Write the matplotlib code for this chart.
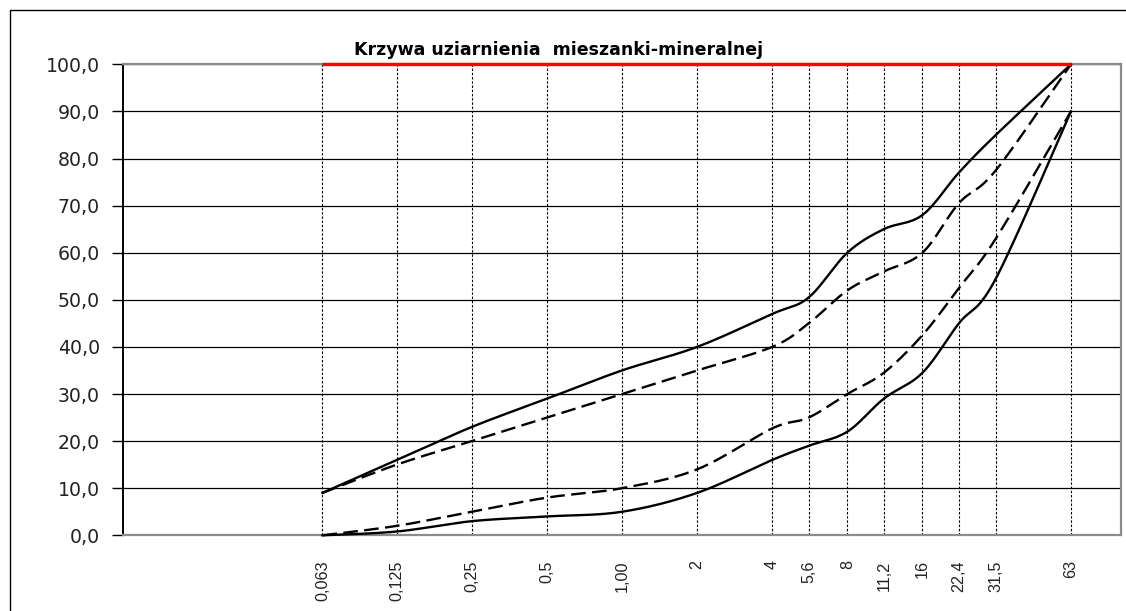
import numpy as np
import matplotlib
matplotlib.use("Agg")
import matplotlib.pyplot as plt
from matplotlib.patches import Rectangle

# ---- data ----
sieves = [0.063, 0.125, 0.25, 0.5, 1.0, 2, 4, 5.6, 8, 11.2, 16, 22.4, 31.5, 63]
sieve_labels = ["0,063", "0,125", "0,25", "0,5", "1,00", "2", "4", "5,6", "8",
                "11,2", "16", "22,4", "31,5", "63"]
upper_solid = [9, 16, 23, 29, 35, 40, 47, 50.5, 60, 65, 68, 77, 85, 100]
upper_dashed = [9, 15, 20, 25, 30, 35, 40, 45, 52, 56, 60, 70.5, 77.5, 100]
lower_dashed = [0, 2, 5, 8, 10, 14, 22.7, 25, 30, 34.5, 42.5, 52.5, 63, 90]
lower_solid = [0, 0.8, 3, 4, 5, 9, 16, 19, 22, 29, 34.5, 45, 54.5, 90]
red_x = [0.063, 63]
red_y = [100, 100]
yticks = [0, 10, 20, 30, 40, 50, 60, 70, 80, 90, 100]
title = "Krzywa uziarnienia  mieszanki-mineralnej"


def smooth(xs, ys, n=40):
    """Excel-like smoothing (Catmull-Rom Bezier) in log-x / linear-y space."""
    lx = np.log10(np.asarray(xs, float))
    y = np.asarray(ys, float)
    P = np.column_stack([lx, y])
    m = len(P)
    out = [P[0]]
    for i in range(m - 1):
        p0 = P[i - 1] if i > 0 else P[i]
        p1 = P[i]
        p2 = P[i + 1]
        p3 = P[i + 2] if i + 2 < m else P[i + 1]
        c1 = p1 + (p2 - p0) / 6.0
        c2 = p2 - (p3 - p1) / 6.0
        t = np.linspace(0, 1, n)[1:, None]
        seg = ((1 - t) ** 3) * p1 + 3 * ((1 - t) ** 2) * t * c1 + 3 * (1 - t) * t ** 2 * c2 + t ** 3 * p2
        out.extend(seg)
    out = np.array(out)
    return 10 ** out[:, 0], out[:, 1]


W, H = 1126, 611
fig = plt.figure(figsize=(W / 100, H / 100), dpi=100)
fig.patch.set_facecolor("white")

# outer chart frame
fig.add_artist(Rectangle((10 / W, -0.01), (1130 - 10) / W, (H - 10) / H + 0.01,
                         transform=fig.transFigure, fill=False, edgecolor="black",
                         linewidth=1.0, zorder=0))

left, right, top, bottom = 123, 1121, 64.3, 535.3
ax = fig.add_axes([left / W, (H - bottom) / H, (right - left) / W, (bottom - top) / H])
ax.set_xscale("log")
ax.set_xlim(0.01, 100)
ax.set_ylim(0, 100)

# horizontal grid
for v in yticks:
    ax.axhline(v, color="black", lw=0.9, zorder=1)
# vertical dotted grid at sieves
for s in sieves:
    ax.axvline(s, color="black", lw=0.8, linestyle=(0, (2.2, 1.6)), zorder=1)

ax.set_yticks(yticks)
ax.set_yticklabels([f"{v:.1f}".replace(".", ",") for v in yticks],
                   fontsize=13.6, family="DejaVu Sans", color="#222222")
ax.tick_params(axis="y", length=8, width=1.0, color="black", pad=8.5)
ax.set_xticks(sieves)
ax.set_xticklabels(sieve_labels, rotation=90, fontsize=11.6, family="Liberation Sans",
                   color="#222222", va="top", ha="center")
ax.xaxis.set_minor_locator(matplotlib.ticker.NullLocator())
ax.tick_params(axis="x", length=0, pad=18)

for side in ["top", "right", "bottom"]:
    ax.spines[side].set_color("#8c8c8c")
    ax.spines[side].set_linewidth(1.6)
ax.spines["left"].set_color("black")
ax.spines["left"].set_linewidth(1.4)

# curves
x, y = smooth(sieves, upper_solid)
ax.plot(x, y, color="black", lw=1.7, zorder=3, clip_on=False)
x, y = smooth(sieves, upper_dashed)
ax.plot(x, y, color="black", lw=1.7, dashes=(6.2, 2.7), zorder=3, clip_on=False)
x, y = smooth(sieves, lower_dashed)
ax.plot(x, y, color="black", lw=1.7, dashes=(6.2, 2.7), zorder=3, clip_on=False)
x, y = smooth(sieves, lower_solid)
ax.plot(x, y, color="black", lw=1.7, zorder=3, clip_on=False)

ax.plot(red_x, red_y, color="#ff0000", lw=2.4, zorder=4, clip_on=False, solid_capstyle="butt")

fig.text(559 / W, 1 - 50 / H, title, ha="center", va="center", fontsize=12.5,
         fontweight="bold", family="DejaVu Sans", color="black")

fig.savefig("out.png", dpi=100)
